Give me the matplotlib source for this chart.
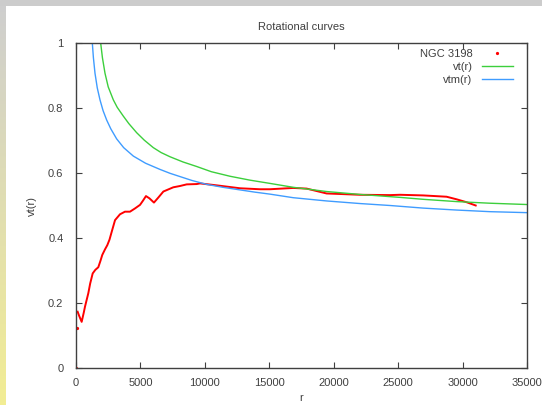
#!/usr/bin/env python3
"""Rotational curves of NGC 3198: observed points vs. vt(r) and vtm(r)."""
import matplotlib
matplotlib.use("Agg")
import matplotlib.pyplot as plt
import numpy as np
from matplotlib.lines import Line2D

plt.rcParams["font.family"] = ["Liberation Sans", "DejaVu Sans"]

r_ngc = [0, 50, 100, 250, 440, 600, 700, 955, 1100, 1295, 1500, 1730, 1900,
         2040, 2250, 2430, 2600, 2770, 3030, 3415, 3800, 4190, 4580, 4970,
         5200, 5430, 5700, 6050, 6400, 6780, 7550, 8070, 8590, 9370, 9620,
         10920, 12730, 14280, 15050, 16860, 17900, 19450, 22040, 24370,
         25140, 26950, 28760, 29540, 30320, 31090]
v_ngc = [0.0, 0.124, 0.176, 0.160, 0.142, 0.170, 0.189, 0.230, 0.260, 0.291,
         0.302, 0.310, 0.330, 0.348, 0.365, 0.378, 0.395, 0.419, 0.455, 0.473,
         0.481, 0.481, 0.491, 0.502, 0.515, 0.529, 0.522, 0.509, 0.525, 0.543,
         0.556, 0.560, 0.565, 0.566, 0.568, 0.562, 0.553, 0.550, 0.550, 0.554,
         0.552, 0.537, 0.533, 0.532, 0.533, 0.531, 0.527, 0.519, 0.510, 0.499]

# model curves
r_vt = [1915, 2050, 2250, 2500, 2897, 3200, 3672, 4100, 4708, 5300, 6000,
        6600, 7294, 8300, 9366, 10500, 11950, 13500, 15050, 16860, 19450,
        22040, 25140, 26950, 29540, 32130, 35000]
v_vt = [1.0, 0.955, 0.907, 0.865, 0.825, 0.802, 0.775, 0.752, 0.724, 0.701,
        0.678, 0.663, 0.650, 0.634, 0.620, 0.604, 0.590, 0.578, 0.568, 0.556,
        0.543, 0.534, 0.525, 0.519, 0.512, 0.507, 0.503]

r_vtm = [1267, 1350, 1474, 1650, 1862, 2100, 2380, 2700, 3155, 3700, 4450,
         5400, 6520, 7300, 8070, 9000, 10140, 11400, 12730, 13900, 15050,
         16860, 19450, 22040, 24370, 26950, 29540, 32130, 35000]
v_vtm = [1.0, 0.955, 0.907, 0.862, 0.825, 0.792, 0.763, 0.736, 0.705, 0.678,
         0.652, 0.630, 0.611, 0.599, 0.589, 0.577, 0.565, 0.556, 0.548, 0.541,
         0.535, 0.524, 0.514, 0.506, 0.500, 0.492, 0.486, 0.481, 0.478]

x_ticks = [0, 5000, 10000, 15000, 20000, 25000, 30000, 35000]
y_ticks = [0, 0.2, 0.4, 0.6, 0.8, 1.0]
y_tick_labels = ["0", "0.2", "0.4", "0.6", "0.8", "1"]

RED = "#ff0000"
GREEN = "#3ccf3c"
BLUE = "#3f9cff"
INK = "#404040"

fig = plt.figure(figsize=(5.42, 4.05), dpi=100)
fig.patch.set_facecolor("white")

# window frame: grey strip on top, grey->yellow gradient strip on the left
top = fig.add_axes([0, 1 - 6 / 405, 1, 6 / 405])
top.set_facecolor("#cccccc")
top.set_axis_off()
top.add_patch(plt.Rectangle((0, 0), 1, 1, color="#cccccc", transform=top.transAxes))
left = fig.add_axes([0, 0, 6 / 542, 1 - 6 / 405])
grad = np.linspace(0, 1, 256)[:, None]
c0 = np.array([0.81, 0.81, 0.81])
c1 = np.array([0.95, 0.93, 0.58])
img = (c0[None, None, :] * (1 - grad[..., None]) + c1[None, None, :] * grad[..., None])
left.imshow(img, aspect="auto", extent=(0, 1, 0, 1), origin="upper")
left.set_axis_off()

ax = fig.add_axes([76 / 542, 37 / 405, 451 / 542, 325 / 405])

ax.plot(r_ngc[:2], v_ngc[:2], linestyle="none", marker="o", markersize=1.3,
        color=RED)
ax.plot(r_ngc[2:], v_ngc[2:], color=RED, linewidth=1.4, solid_capstyle="butt")
ax.plot(r_vt, v_vt, color=GREEN, linewidth=1.0)
ax.plot(r_vtm, v_vtm, color=BLUE, linewidth=1.0)

ax.set_xlim(0, 35000)
ax.set_ylim(0, 1)
ax.set_xticks(x_ticks)
ax.set_xticklabels([str(t) for t in x_ticks])
ax.set_yticks(y_ticks)
ax.set_yticklabels(y_tick_labels)
ax.tick_params(direction="in", length=4, width=0.8, color=INK, labelcolor=INK,
               labelsize=8, top=True, right=True, labeltop=False, labelright=False)
ax.tick_params(axis="x", pad=7)
ax.tick_params(axis="y", pad=9)
for sp in ax.spines.values():
    sp.set_color(INK)
    sp.set_linewidth(1.0)

ax.set_xlabel("r", fontsize=8, color=INK, labelpad=4)
ax.set_ylabel("vt(r)", fontsize=8, color=INK, labelpad=8)
ax.set_title("Rotational curves", fontsize=8, color=INK, pad=9)

handles = [
    Line2D([], [], linestyle="none", marker="o", markersize=1.3, color=RED),
    Line2D([], [], color=GREEN, linewidth=1.0),
    Line2D([], [], color=BLUE, linewidth=1.0),
]
leg = ax.legend(handles, ["NGC 3198", "vt(r)", "vtm(r)"], loc="upper right",
                frameon=False, markerfirst=False, fontsize=8, handlelength=2.8,
                handletextpad=0.8, labelspacing=0.25, borderaxespad=0.0,
                bbox_to_anchor=(0.978, 0.995))
for t in leg.get_texts():
    t.set_color(INK)

fig.savefig("out.png", dpi=100)
